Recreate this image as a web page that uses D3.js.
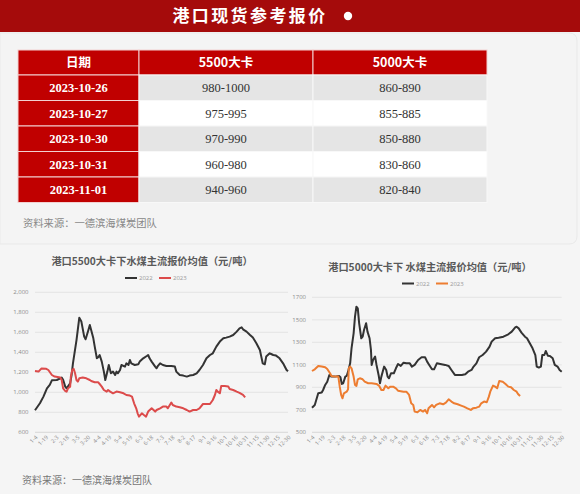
<!DOCTYPE html>
<html>
<head>
<meta charset="utf-8">
<script src="https://cdn.jsdelivr.net/npm/d3@7"></script>
<style>
html, body { margin: 0; padding: 0; background: #f5f5f5; }
svg { display: block; }
</style>
</head>
<body>
<svg id="page" width="580" height="494"></svg>
<script>
// ---- table data ----
const tableHeaders = ["日期", "5500大卡", "5000大卡"];
const tableDates = ["2023-10-26", "2023-10-27", "2023-10-30", "2023-10-31", "2023-11-01"];
const price5500 = ["980-1000", "975-995", "970-990", "960-980", "940-960"];
const price5000 = ["860-890", "855-885", "850-880", "830-860", "820-840"];

// ---- chart data (month-day, yuan/ton) ----
const xTickLabels = ["1-4", "1-19", "2-3", "2-18", "3-5", "3-20", "4-4", "4-19", "5-4", "5-19", "6-3", "6-18",
  "7-3", "7-18", "8-2", "8-17", "9-1", "9-16", "10-1", "10-16", "10-31", "11-15", "11-30", "12-15", "12-30"];
const yTicks5500 = [600, 800, 1000, 1200, 1400, 1600, 1800, 2000];
const yTicks5000 = [500, 700, 900, 1100, 1300, 1500, 1700];

const p5500y2022 = [["1-4", 820], ["1-8", 860], ["1-11", 890], ["1-16", 957], ["1-21", 1040], ["1-25", 1075],
  ["1-28", 1120], ["2-4", 1123], ["2-9", 1140], ["2-11", 1147], ["2-13", 1125], ["2-16", 1057], ["2-18", 1040],
  ["2-23", 1090], ["2-25", 1170], ["2-27", 1290], ["3-4", 1520], ["3-8", 1745], ["3-11", 1707], ["3-15", 1557],
  ["3-17", 1530], ["3-21", 1623], ["3-23", 1673], ["3-25", 1620], ["3-28", 1540], ["3-30", 1457], ["4-2", 1340],
  ["4-4", 1350], ["4-6", 1373], ["4-9", 1307], ["4-12", 1207], ["4-14", 1123], ["4-17", 1207], ["4-19", 1273],
  ["4-22", 1190], ["4-25", 1207], ["4-28", 1173], ["4-30", 1207], ["5-2", 1190], ["5-5", 1223], ["5-7", 1273],
  ["5-12", 1257], ["5-14", 1290], ["5-17", 1273], ["5-19", 1323], ["5-21", 1290], ["5-26", 1273], ["5-31", 1280],
  ["6-2", 1307], ["6-7", 1340], ["6-12", 1363], ["6-14", 1373], ["6-16", 1340], ["6-19", 1307], ["6-24", 1257],
  ["6-26", 1240], ["6-28", 1265], ["7-1", 1290], ["7-5", 1273], ["7-10", 1263], ["7-17", 1263], ["7-22", 1257],
  ["7-24", 1207], ["7-29", 1173], ["8-3", 1167], ["8-8", 1157], ["8-12", 1167], ["8-17", 1173], ["8-22", 1190],
  ["8-26", 1223], ["8-31", 1273], ["9-5", 1340], ["9-10", 1373], ["9-14", 1390], ["9-19", 1457], ["9-24", 1507],
  ["9-29", 1540], ["10-3", 1547], ["10-8", 1557], ["10-13", 1573], ["10-18", 1607], ["10-22", 1640],
  ["10-25", 1650], ["10-27", 1630], ["11-1", 1607], ["11-6", 1573], ["11-10", 1547], ["11-15", 1490],
  ["11-20", 1423], ["11-22", 1357], ["11-24", 1290], ["11-27", 1280], ["11-29", 1357], ["12-4", 1390],
  ["12-6", 1383], ["12-9", 1373], ["12-13", 1367], ["12-18", 1340], ["12-23", 1290], ["12-28", 1223], ["12-30", 1210]];

const p5500y2023 = [["1-4", 1213], ["1-9", 1207], ["1-13", 1237], ["1-20", 1235], ["1-23", 1223], ["1-28", 1173],
  ["2-1", 1157], ["2-9", 1147], ["2-11", 1123], ["2-13", 1040], ["2-16", 1013], ["2-18", 1007], ["2-20", 1040],
  ["2-23", 1057], ["2-24", 1157], ["2-26", 1223], ["2-28", 1235], ["3-2", 1190], ["3-4", 1123], ["3-6", 1107],
  ["3-8", 1140], ["3-13", 1147], ["3-18", 1140], ["3-23", 1123], ["3-25", 1113], ["3-30", 1100], ["4-4", 1100],
  ["4-6", 1083], ["4-9", 1057], ["4-12", 1023], ["4-16", 1007], ["4-18", 1023], ["4-21", 1007], ["4-25", 990],
  ["4-30", 1007], ["5-5", 1000], ["5-10", 990], ["5-14", 973], ["5-19", 967], ["5-22", 957], ["5-25", 890],
  ["5-28", 840], ["5-30", 790], ["6-1", 757], ["6-5", 790], ["6-8", 773], ["6-11", 757], ["6-14", 807],
  ["6-19", 840], ["6-24", 807], ["6-26", 823], ["7-1", 840], ["7-5", 857], ["7-10", 857], ["7-12", 840],
  ["7-17", 897], ["7-19", 873], ["7-24", 857], ["7-29", 850], ["8-3", 840], ["8-8", 823], ["8-12", 807],
  ["8-17", 823], ["8-22", 823], ["8-26", 840], ["8-31", 883], ["9-5", 883], ["9-10", 883], ["9-14", 923],
  ["9-17", 973], ["9-19", 1023], ["9-21", 1007], ["9-24", 990], ["9-26", 1063], ["10-1", 1063], ["10-6", 1057],
  ["10-8", 1033], ["10-13", 1023], ["10-18", 1007], ["10-22", 995], ["10-27", 975], ["10-30", 950]];

const p5000y2022 = [["1-4", 719], ["1-8", 743], ["1-13", 847], ["1-18", 853], ["1-20", 876], ["1-23", 921],
  ["1-26", 950], ["1-29", 1010], ["2-1", 995], ["2-6", 995], ["2-12", 1001], ["2-14", 989], ["2-16", 930],
  ["2-18", 936], ["2-21", 995], ["2-23", 1001], ["2-25", 1039], ["2-28", 1113], ["3-2", 1247], ["3-5", 1380],
  ["3-7", 1528], ["3-9", 1617], ["3-11", 1602], ["3-13", 1469], ["3-16", 1336], ["3-18", 1350], ["3-20", 1410],
  ["3-23", 1469], ["3-25", 1395], ["3-28", 1336], ["3-30", 1232], ["3-31", 1099], ["4-2", 1143], ["4-5", 1173],
  ["4-7", 1099], ["4-10", 1010], ["4-12", 936], ["4-14", 995], ["4-18", 1084], ["4-21", 1054], ["4-23", 995],
  ["4-25", 980], ["4-28", 1025], ["5-2", 1025], ["5-5", 1069], ["5-8", 1107], ["5-12", 1090], ["5-16", 1119],
  ["5-20", 1113], ["5-25", 1113], ["5-28", 1084], ["6-1", 1099], ["6-6", 1143], ["6-11", 1167], ["6-16", 1167],
  ["6-19", 1128], ["6-22", 1099], ["6-26", 1060], ["6-29", 1060], ["7-3", 1113], ["7-8", 1107], ["7-15", 1099],
  ["7-20", 1090], ["7-24", 1054], ["7-29", 1010], ["8-3", 1010], ["8-8", 1010], ["8-13", 1016], ["8-17", 1039],
  ["8-22", 1054], ["8-25", 1084], ["8-29", 1113], ["9-2", 1167], ["9-7", 1187], ["9-12", 1217], ["9-17", 1261],
  ["9-20", 1306], ["9-25", 1336], ["9-30", 1341], ["10-7", 1350], ["10-14", 1371], ["10-19", 1395],
  ["10-24", 1433], ["10-26", 1439], ["10-29", 1424], ["11-2", 1386], ["11-7", 1350], ["11-10", 1336],
  ["11-14", 1291], ["11-18", 1247], ["11-22", 1187], ["11-24", 1084], ["11-27", 1075], ["11-30", 1084],
  ["12-2", 1187], ["12-5", 1187], ["12-7", 1223], ["12-10", 1181], ["12-13", 1179], ["12-17", 1158],
  ["12-20", 1099], ["12-24", 1084], ["12-27", 1054], ["12-30", 1039]];

const p5000y2023 = [["1-4", 1045], ["1-8", 1060], ["1-13", 1090], ["1-18", 1084], ["1-23", 1078], ["1-26", 1063],
  ["1-30", 1025], ["2-1", 1001], ["2-6", 995], ["2-11", 995], ["2-13", 906], ["2-15", 832], ["2-17", 802],
  ["2-19", 847], ["2-23", 861], ["2-25", 882], ["2-26", 1069], ["2-28", 1084], ["3-2", 1069], ["3-5", 995],
  ["3-7", 921], ["3-9", 912], ["3-11", 971], ["3-14", 980], ["3-18", 971], ["3-21", 950], ["3-26", 936],
  ["3-31", 936], ["4-7", 930], ["4-11", 912], ["4-14", 876], ["4-17", 876], ["4-20", 915], ["4-24", 891],
  ["4-27", 906], ["5-1", 906], ["5-5", 891], ["5-8", 870], ["5-16", 861], ["5-20", 861], ["5-24", 832],
  ["5-27", 758], ["5-30", 743], ["6-1", 684], ["6-5", 678], ["6-9", 699], ["6-13", 684], ["6-16", 699],
  ["6-19", 669], ["6-21", 713], ["6-26", 743], ["6-29", 722], ["7-2", 743], ["7-7", 758], ["7-12", 749],
  ["7-16", 764], ["7-20", 793], ["7-24", 773], ["7-28", 758], ["8-2", 749], ["8-7", 737], ["8-11", 728],
  ["8-16", 713], ["8-21", 699], ["8-24", 713], ["8-29", 719], ["9-2", 728], ["9-5", 758], ["9-9", 773],
  ["9-13", 767], ["9-16", 817], ["9-18", 861], ["9-22", 915], ["9-25", 906], ["9-28", 891], ["10-1", 956],
  ["10-6", 950], ["10-10", 930], ["10-14", 906], ["10-18", 900], ["10-22", 876], ["10-26", 861],
  ["10-28", 841], ["10-31", 823]];

const svg = d3.select("#page");
const cjk = "'Noto Sans CJK SC', 'Noto Sans', sans-serif";
const serif = "'Liberation Serif', 'DejaVu Serif', serif";
const parseMD = d3.timeParse("%Y-%m-%d");
const md = s => parseMD("2022-" + s);

// ---- header banner ----
svg.append("rect").attr("x", 0).attr("y", 0).attr("width", 580).attr("height", 32).attr("fill", "#a50b0b");
svg.append("text")
  .attr("x", 250).attr("y", 22)
  .attr("text-anchor", "middle")
  .style("font-family", cjk).style("font-weight", "bold")
  .style("font-size", "17px").style("letter-spacing", "2.4px")
  .attr("fill", "#fff")
  .text("港口现货参考报价");
svg.append("circle").attr("cx", 348).attr("cy", 16).attr("r", 4.2).attr("fill", "#fff");

// ---- panels ----
svg.append("path")
  .attr("d", "M0,33 H569 Q577,33 577,41 V236 Q577,244 569,244 H0 Z")
  .attr("fill", "#f4f4f4").attr("stroke", "#e9e9e9");
svg.append("rect").attr("x", 0).attr("y", 246).attr("width", 580).attr("height", 248).attr("fill", "#f5f5f5");

// ---- table ----
const colX = [18, 139, 313, 487];
const headH = 25, rowH = 25.5, tableTop = 50;
const rowY = i => tableTop + headH + i * rowH;

tableHeaders.forEach((h, c) => {
  svg.append("rect")
    .attr("x", colX[c]).attr("y", tableTop)
    .attr("width", colX[c + 1] - colX[c]).attr("height", headH)
    .attr("fill", "#c00000").attr("stroke", "#f2d0d0").attr("stroke-width", 1);
  svg.append("text")
    .attr("x", (colX[c] + colX[c + 1]) / 2).attr("y", tableTop + headH / 2 + 4.5)
    .attr("text-anchor", "middle")
    .style("font-family", cjk).style("font-weight", "bold").style("font-size", "12.5px")
    .attr("fill", "#fff").text(h);
});

tableDates.forEach((d, i) => {
  const cells = [d, price5500[i], price5000[i]];
  cells.forEach((v, c) => {
    const fill = c === 0 ? "#c00000" : (i % 2 === 0 ? "#e5e5e5" : "#ffffff");
    svg.append("rect")
      .attr("x", colX[c]).attr("y", rowY(i))
      .attr("width", colX[c + 1] - colX[c]).attr("height", rowH)
      .attr("fill", fill).attr("stroke", c === 0 ? "#f2d0d0" : "#f8f8f8").attr("stroke-width", 1);
    svg.append("text")
      .attr("x", (colX[c] + colX[c + 1]) / 2).attr("y", rowY(i) + rowH / 2 + 4.5)
      .attr("text-anchor", "middle")
      .style("font-family", serif)
      .style("font-weight", c === 0 ? "bold" : "normal")
      .style("font-size", "12.5px")
      .attr("fill", c === 0 ? "#fff" : "#333")
      .text(v);
  });
});

svg.append("text")
  .attr("x", 23).attr("y", 227)
  .style("font-family", cjk).style("font-size", "10.3px")
  .attr("fill", "#888").text("资料来源：一德滨海煤炭团队");

// ---- line charts ----
function drawChart(cfg) {
  const g = svg.append("g");
  const x = d3.scaleTime().domain([md("1-4"), md("12-30")]).range([cfg.left, cfg.right]);
  const y = d3.scaleLinear().domain(d3.extent(cfg.yTicks)).range([cfg.bottom, cfg.top]);

  g.selectAll(".grid").data(cfg.yTicks).enter().append("line")
    .attr("x1", cfg.left).attr("x2", cfg.right)
    .attr("y1", d => y(d)).attr("y2", d => y(d))
    .attr("stroke", d => d === cfg.yTicks[0] ? "#d0d0d0" : "#e0e0e0").attr("stroke-width", 0.8);

  g.selectAll(".ylab").data(cfg.yTicks).enter().append("text")
    .attr("x", cfg.labelX).attr("y", d => y(d) + 2)
    .attr("text-anchor", "end")
    .style("font-family", "'Open Sans', sans-serif").style("font-size", "6px")
    .attr("fill", "#8c8c8c")
    .text(d => cfg.fmt(d));

  g.selectAll(".xlab").data(xTickLabels).enter().append("text")
    .attr("transform", d => `translate(${x(md(d)) + 1.5},${cfg.bottom + 4}) rotate(-45)`)
    .attr("text-anchor", "end").attr("dy", "0.35em")
    .style("font-family", "'Open Sans', sans-serif").style("font-size", "5.6px")
    .attr("fill", "#8c8c8c")
    .text(d => d);

  const line = d3.line()
    .x(d => x(md(d[0])))
    .y(d => y(d[1]))
    .curve(d3.curveLinear);

  cfg.series.forEach(s => {
    g.append("path")
      .datum(s.data)
      .attr("d", line)
      .attr("fill", "none")
      .attr("stroke", s.color)
      .attr("stroke-width", 2)
      .attr("stroke-linejoin", "round");
  });

  g.append("text")
    .attr("x", cfg.titleX).attr("y", cfg.titleY)
    .attr("text-anchor", "middle")
    .style("font-family", cjk).style("font-weight", "bold").style("font-size", "10.2px")
    .attr("fill", "#595959").text(cfg.title);

  cfg.series.forEach((s, i) => {
    const lx = cfg.legendX + i * 34;
    g.append("line")
      .attr("x1", lx).attr("x2", lx + 12)
      .attr("y1", cfg.legendY).attr("y2", cfg.legendY)
      .attr("stroke", s.color).attr("stroke-width", 2);
    g.append("text")
      .attr("x", lx + 14).attr("y", cfg.legendY + 2)
      .style("font-family", "'Open Sans', sans-serif").style("font-size", "6px")
      .attr("fill", "#999").text(s.name);
  });
}

drawChart({
  left: 35, right: 288, top: 292.3, bottom: 432.3, labelX: 28.5,
  yTicks: yTicks5500, fmt: d3.format(","),
  title: "港口5500大卡下水煤主流报价均值（元/吨）", titleX: 152, titleY: 265,
  legendX: 125, legendY: 278,
  series: [
    { name: "2022", color: "#333333", data: p5500y2022 },
    { name: "2023", color: "#dc4b4b", data: p5500y2023 }
  ]
});

drawChart({
  left: 312, right: 561.7, top: 297.3, bottom: 432.3, labelX: 306,
  yTicks: yTicks5000, fmt: d => String(d),
  title: "港口5000大卡下 水煤主流报价均值（元/吨）", titleX: 430, titleY: 270.5,
  legendX: 402, legendY: 283.5,
  series: [
    { name: "2022", color: "#333333", data: p5000y2022 },
    { name: "2023", color: "#ed7d31", data: p5000y2023 }
  ]
});

svg.append("text")
  .attr("x", 22).attr("y", 484)
  .style("font-family", cjk).style("font-size", "10px")
  .attr("fill", "#777").text("资料来源：一德滨海煤炭团队");
</script>
</body>
</html>
